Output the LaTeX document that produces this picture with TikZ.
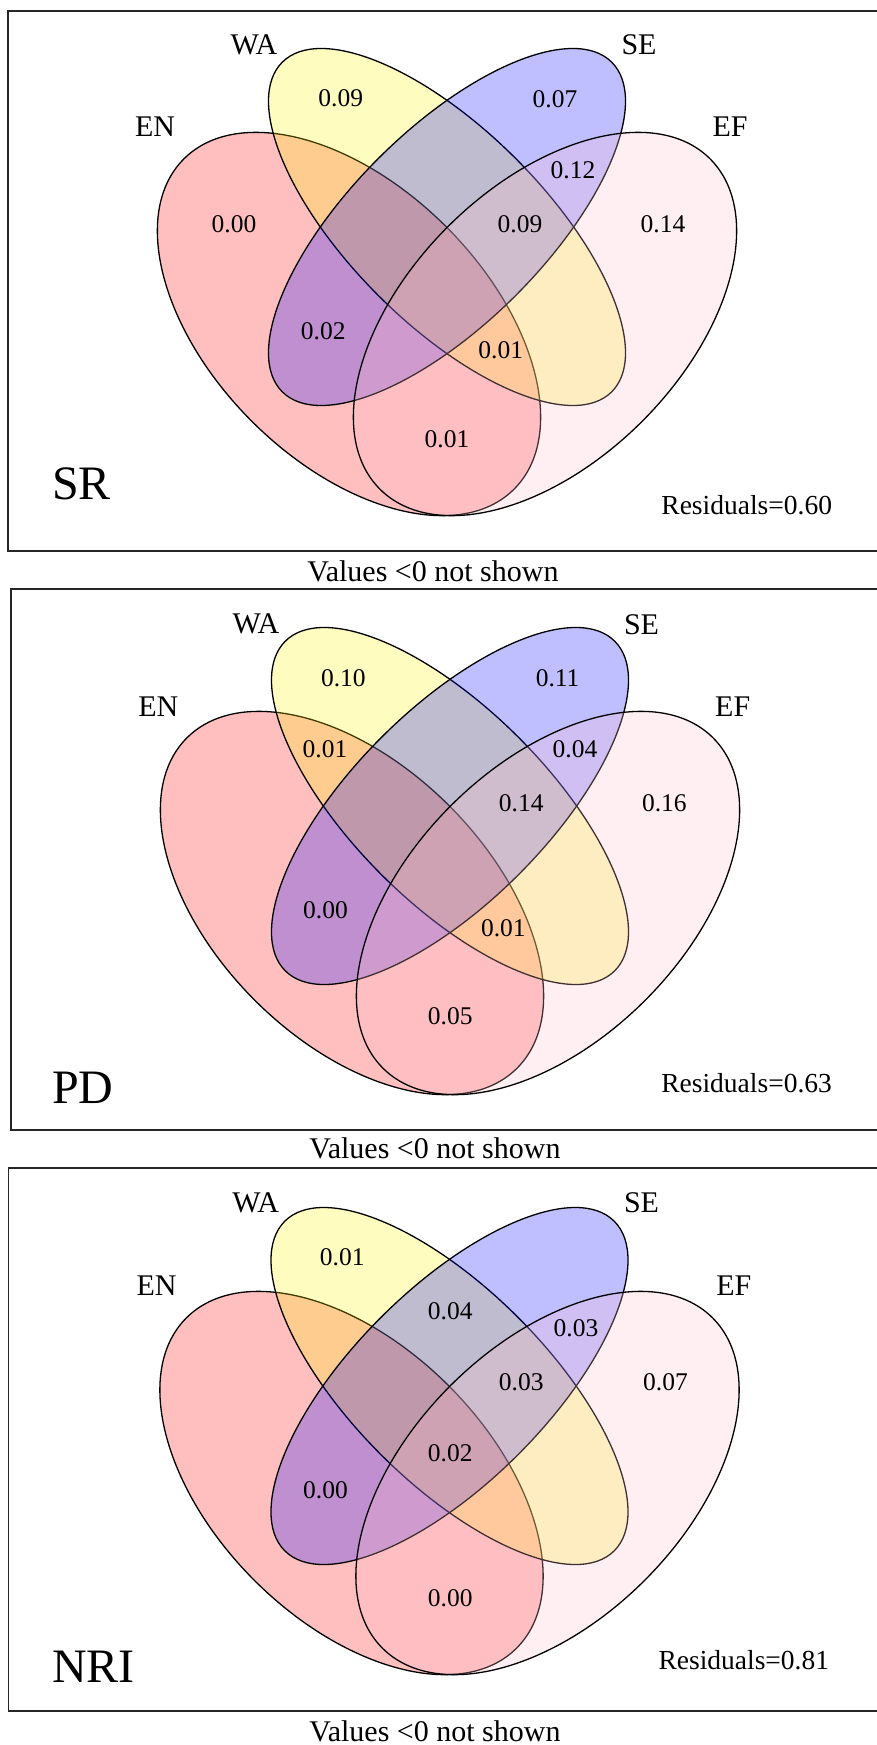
\documentclass[tikz,border=0pt]{standalone}
\usepackage{fontspec}
\setmainfont{Liberation Serif}
\definecolor{rpink}{RGB}{255,192,203}
\tikzset{
  venn/.style={line width=1.3pt, draw=black, fill opacity=0.25, draw opacity=1},
  num/.style={font=\fontsize{25.5}{30}\selectfont, inner sep=0pt},
  setlab/.style={font=\fontsize{30}{35}\selectfont, inner sep=0pt},
  bigname/.style={font=\fontsize{48}{56}\selectfont, inner sep=0pt, anchor=west},
  resid/.style={font=\fontsize{27.5}{32}\selectfont, inner sep=0pt},
  note/.style={font=\fontsize{30}{36}\selectfont, inner sep=0pt},
  panelbox/.style={line width=1.8pt, draw=black!85}
}
\newcommand{\vennfour}{%
  \filldraw[venn, fill=red, rotate around={-45:(349,324)}] (349,324) ellipse [x radius=233.5pt, y radius=137.5pt];
  \filldraw[venn, fill=yellow, rotate around={-45:(447,227)}] (447,227) ellipse [x radius=233pt, y radius=97pt];
  \filldraw[venn, fill=blue, rotate around={45:(447,227)}] (447,227) ellipse [x radius=233pt, y radius=97pt];
  \filldraw[venn, fill=rpink, rotate around={45:(545,324)}] (545,324) ellipse [x radius=233.5pt, y radius=137.5pt];
}
\begin{document}
\begin{tikzpicture}[x=1pt,y=-1pt]
\useasboundingbox (0,0) rectangle (877,1745);
\clip (0,0) rectangle (877,1745);

% ---------- Panel 1 : SR ----------
\draw[panelbox] (8.3,11) rectangle (900,550.7);
\begin{scope}[shift={(0,0)}]
  \vennfour
\end{scope}
\node[setlab] (p1wa) at (254,45) {WA};
\node[setlab] (p1se) at (639,45) {SE};
\node[setlab] (p1en) at (155,126.7) {EN};
\node[setlab] (p1ef) at (730,126.7) {EF};
\node[num] (p1a) at (340.8,98.3) {0.09};
\node[num] (p1b) at (555,99) {0.07};
\node[num] (p1c) at (573,170) {0.12};
\node[num] (p1d) at (234,224) {0.00};
\node[num] (p1e) at (520,224) {0.09};
\node[num] (p1f) at (663,224) {0.14};
\node[num] (p1g) at (323.3,330.8) {0.02};
\node[num] (p1h) at (500.8,349.7) {0.01};
\node[num] (p1i) at (447,438.7) {0.01};
\node[bigname] (p1name) at (52,484) {SR};
\node[resid] (p1res) at (746.7,505.6) {Residuals=0.60};
\node[note] (p1note) at (433,571) {Values <0 not shown};

% ---------- Panel 2 : PD ----------
\draw[panelbox] (11,588.7) rectangle (900,1130.2);
\begin{scope}[shift={(3,579)}]
  \vennfour
\end{scope}
\node[setlab] (p2wa) at (256,624.3) {WA};
\node[setlab] (p2se) at (641.5,624.3) {SE};
\node[setlab] (p2en) at (158.3,706.6) {EN};
\node[setlab] (p2ef) at (732.7,706.6) {EF};
\node[num] (p2a) at (343.4,677.9) {0.10};
\node[num] (p2b) at (557.6,677.9) {0.11};
\node[num] (p2c) at (325,749.4) {0.01};
\node[num] (p2d) at (575,749.4) {0.04};
\node[num] (p2e) at (521.3,803) {0.14};
\node[num] (p2f) at (664.4,803) {0.16};
\node[num] (p2g) at (325.5,910.2) {0.00};
\node[num] (p2h) at (503.4,928.2) {0.01};
\node[num] (p2i) at (450.2,1016.6) {0.05};
\node[bigname] (p2name) at (52,1087.4) {PD};
\node[resid] (p2res) at (746.6,1083.5) {Residuals=0.63};
\node[note] (p2note) at (435,1148) {Values <0 not shown};

% ---------- Panel 3 : NRI ----------
\draw[panelbox] (8.4,1168.2) rectangle (900,1711);
\begin{scope}[shift={(2.5,1159)}]
  \vennfour
\end{scope}
\node[setlab] (p3wa) at (255.6,1203.1) {WA};
\node[setlab] (p3se) at (641.5,1203.1) {SE};
\node[setlab] (p3en) at (156.6,1285.9) {EN};
\node[setlab] (p3ef) at (733.8,1285.9) {EF};
\node[num] (p3a) at (342.3,1257.4) {0.01};
\node[num] (p3b) at (450.2,1311.3) {0.04};
\node[num] (p3c) at (576,1328.4) {0.03};
\node[num] (p3d) at (521.3,1382.3) {0.03};
\node[num] (p3e) at (665.5,1382.3) {0.07};
\node[num] (p3f) at (450.2,1453.6) {0.02};
\node[num] (p3g) at (325.5,1489.7) {0.00};
\node[num] (p3h) at (450.2,1597.8) {0.00};
\node[bigname] (p3name) at (52,1666.9) {NRI};
\node[resid] (p3res) at (743.8,1660.4) {Residuals=0.81};
\node[note] (p3note) at (435,1731) {Values <0 not shown};
\end{tikzpicture}
\end{document}
